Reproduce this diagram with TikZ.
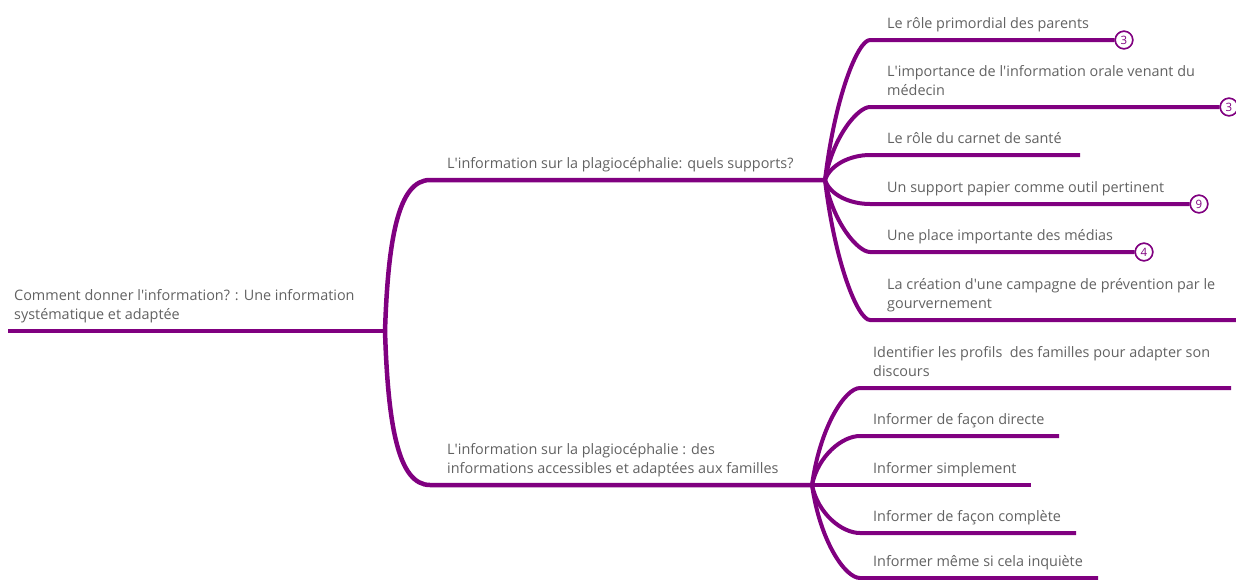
\documentclass[tikz,border=0pt]{standalone}
\usepackage{fontspec}
\setmainfont{Open Sans}
\definecolor{mmpurple}{RGB}{128,0,128}
\definecolor{mmtext}{RGB}{98,98,98}
\newcommand{\ap}{\textquotesingle}
\tikzset{
  txt/.style={anchor=south west, inner sep=0pt, align=left, text=mmtext,
    font=\fontsize{14.4}{18.5}\selectfont},
  trunk/.style={draw=mmpurple, line width=4.5pt},
  twig/.style={draw=mmpurple, line width=4pt},
  badge/.style={circle, draw=mmpurple, line width=1.5pt, fill=white,
    minimum size=17.5pt, inner sep=0pt, text=mmpurple,
    font=\fontsize{11.5}{12}\selectfont}
}
\begin{document}
\begin{tikzpicture}[x=1pt,y=-1pt]
\useasboundingbox (0,0) rectangle (1236,579);
\newcommand{\st}{\strut}
% ---------- root ----------
\coordinate (rs) at (8,331);
\coordinate (R) at (385,331);
\node[txt] (t0) at (14,325) {Comment donner l\ap information? : Une information\\systématique et adaptée\st};
% ---------- branch 1 ----------
\coordinate (b1s) at (430,180);
\coordinate (J1) at (825,180);
\node[txt] (tb1) at (447,174) {L\ap information sur la plagiocéphalie: quels supports?\st};
% ---------- branch 2 ----------
\coordinate (b2s) at (430,485);
\coordinate (J2) at (812,485);
\node[txt] (tb2) at (447,479) {L\ap information sur la plagiocéphalie : des\\informations accessibles et adaptées aux familles\st};
% ---------- children of branch 1 ----------
\coordinate (c1s) at (870,40);
\coordinate (c2s) at (870,107);
\coordinate (c3s) at (870,155);
\coordinate (c4s) at (870,204);
\coordinate (c5s) at (870,252);
\coordinate (c6s) at (870,320);
\coordinate (c3e) at (1080,155);
\coordinate (c6e) at (1240,320);
\node[txt] (tc1) at (887,34) {Le rôle primordial des parents\st};
\node[txt] (tc2) at (887,101) {L\ap importance de l\ap information orale venant du\\médecin\st};
\node[txt] (tc3) at (887,149) {Le rôle du carnet de santé\st};
\node[txt] (tc4) at (887,198) {Un support papier comme outil pertinent\st};
\node[txt] (tc5) at (887,246) {Une place importante des médias\st};
\node[txt] (tc6) at (887,314) {La création d\ap une campagne de prévention par le\\gourvernement\st};
% ---------- children of branch 2 ----------
\coordinate (d1s) at (860,388);
\coordinate (d2s) at (860,436);
\coordinate (d4s) at (860,533);
\coordinate (d5s) at (860,578);
\coordinate (d1e) at (1231,388);
\coordinate (d2e) at (1059,436);
\coordinate (d3e) at (1031,485);
\coordinate (d4e) at (1076,533);
\coordinate (d5e) at (1098,578);
\node[txt] (td1) at (873,382) {Identifier les profils\ \ des familles pour adapter son\\discours\st};
\node[txt] (td2) at (873,430) {Informer de façon directe\st};
\node[txt] (td3) at (873,479) {Informer simplement\st};
\node[txt] (td4) at (873,527) {Informer de façon complète\st};
\node[txt] (td5) at (873,572) {Informer même si cela inquiète\st};
% ---------- connectors ----------
\draw[twig] (rs) -- (R);
\draw[trunk] (R) .. controls (388,240) and (398,180) .. (b1s) -- (J1);
\draw[trunk] (R) .. controls (388,425) and (398,485) .. (b2s) -- (J2);
% badge positions
\node[badge] (k1) at (1124,40) {3};
\node[badge] (k2) at (1229,107) {3};
\node[badge] (k4) at (1199,204) {9};
\node[badge] (k5) at (1144,252) {4};
\draw[twig] (J1) .. controls (835,96) and (858,40) .. (c1s) -- (k1);
\draw[twig] (J1) .. controls (833,136) and (858,107) .. (c2s) -- (k2);
\draw[twig] (J1) .. controls (830,165) and (850,155) .. (c3s) -- (c3e);
\draw[twig] (J1) .. controls (830,195) and (850,204) .. (c4s) -- (k4);
\draw[twig] (J1) .. controls (833,223) and (858,252) .. (c5s) -- (k5);
\draw[twig] (J1) .. controls (835,264) and (858,320) .. (c6s) -- (c6e);
\draw[twig] (J2) .. controls (820,427) and (845,388) .. (d1s) -- (d1e);
\draw[twig] (J2) .. controls (818,456) and (842,436) .. (d2s) -- (d2e);
\draw[twig] (J2) -- (d3e);
\draw[twig] (J2) .. controls (818,514) and (842,533) .. (d4s) -- (d4e);
\draw[twig] (J2) .. controls (820,541) and (845,578) .. (d5s) -- (d5e);
% badges drawn on top of their lines
\node[badge] at (k1) {3};
\node[badge] at (k2) {3};
\node[badge] at (k4) {9};
\node[badge] at (k5) {4};
\end{tikzpicture}
\end{document}
